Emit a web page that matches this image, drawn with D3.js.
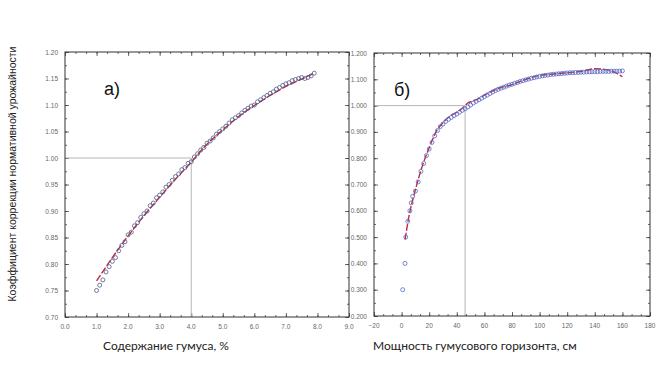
<!DOCTYPE html>
<html>
<head>
<meta charset="utf-8">
<script src="https://cdn.jsdelivr.net/npm/d3@7"></script>
<style>
  body { margin: 0; background: #fff; }
  svg { display: block; }
</style>
</head>
<body>
<svg id="chart" width="659" height="368"></svg>
<script>
// а) коэффициент vs содержание гумуса
const humusX = [1.0,1.1,1.2,1.3,1.4,1.5,1.6,1.7,1.8,1.9,2.0,2.1,2.2,2.3,2.4,2.5,2.6,2.7,2.8,2.9,
  3.0,3.1,3.2,3.3,3.4,3.5,3.6,3.7,3.8,3.9,4.0,4.1,4.2,4.3,4.4,4.5,4.6,4.7,4.8,4.9,
  5.0,5.1,5.2,5.3,5.4,5.5,5.6,5.7,5.8,5.9,6.0,6.1,6.2,6.3,6.4,6.5,6.6,6.7,6.8,6.9,
  7.0,7.1,7.2,7.3,7.4,7.5,7.6,7.7,7.8,7.9];
const humusK = [0.750,0.760,0.770,0.785,0.795,0.805,0.812,0.825,0.835,0.842,0.855,0.860,0.872,0.878,0.888,0.895,0.900,0.910,0.915,0.925,
  0.930,0.936,0.945,0.950,0.958,0.965,0.970,0.978,0.982,0.990,0.993,1.002,1.008,1.015,1.020,1.028,1.032,1.038,1.045,1.050,
  1.055,1.060,1.066,1.072,1.076,1.080,1.085,1.090,1.094,1.098,1.100,1.106,1.110,1.114,1.118,1.122,1.125,1.130,1.133,1.137,
  1.140,1.142,1.146,1.148,1.150,1.152,1.150,1.152,1.155,1.160];
const humusFitX = [1.0,1.5,2.0,2.5,3.0,3.5,4.0,4.5,5.0,5.5,6.0,6.5,7.0,7.5,7.9];
const humusFitK = [0.768,0.812,0.853,0.891,0.926,0.960,0.992,1.026,1.053,1.078,1.099,1.118,1.135,1.149,1.160];

// б) коэффициент vs мощность гумусового горизонта
const depthX = [0.8,2.5,3.0,4.5,6,7,8,10,12,14,16,18,20,22,24,26,28,30,32,34,36,38,40,42,44,46,48,50,
  52,54,56,58,60,62,64,66,68,70,72,74,76,78,80,82,84,86,88,90,92,94,96,98,100,102,104,106,108,110,
  112,114,116,118,120,122,124,126,128,130,132,134,136,138,140,142,144,146,148,150,152,154,156,158,160];
const depthK = [0.30,0.40,0.50,0.56,0.60,0.63,0.655,0.675,0.71,0.75,0.78,0.81,0.835,0.86,0.885,0.905,0.92,0.93,0.94,0.948,0.955,0.962,0.968,0.975,0.982,0.988,0.995,1.002,
  1.010,1.016,1.022,1.028,1.034,1.040,1.046,1.052,1.057,1.062,1.066,1.070,1.074,1.078,1.081,1.085,1.088,1.092,1.095,1.098,1.101,1.104,1.106,1.109,1.111,1.113,1.115,1.116,1.118,1.119,
  1.120,1.121,1.122,1.123,1.124,1.125,1.125,1.126,1.126,1.127,1.127,1.128,1.128,1.129,1.129,1.129,1.130,1.130,1.130,1.130,1.131,1.131,1.131,1.131,1.132];
const depthFitX = [2.5,5,10,15,20,25,30,35,40,45,48,50,55,60,70,80,90,100,110,120,130,140,150,155,160];
const depthFitK = [0.49,0.57,0.68,0.77,0.84,0.90,0.935,0.96,0.975,0.995,1.01,1.015,1.025,1.04,1.065,1.08,1.10,1.115,1.12,1.125,1.13,1.14,1.135,1.125,1.11];

// опорные линии
const refHumus = [4.0, 1.00];
const refDepth = [46, 1.00];

const svg = d3.select("#chart");

function panel(opt) {
  const { left, right, top, bottom } = opt.box;
  const x = d3.scaleLinear().domain(opt.xDomain).range([left, right]);
  const y = d3.scaleLinear().domain(opt.yDomain).range([bottom, top]);
  const g = svg.append("g");

  // тики внутрь, по всем сторонам
  const xMajor = d3.range(opt.xDomain[0], opt.xDomain[1] + 1e-9, opt.xStep);
  const yMajor = d3.range(opt.yDomain[0], opt.yDomain[1] + 1e-9, opt.yStep);
  const xMinor = d3.range(opt.xDomain[0], opt.xDomain[1] + 1e-9, opt.xStep / 3);
  const yMinor = d3.range(opt.yDomain[0], opt.yDomain[1] + 1e-9, opt.yStep / 2);

  g.append("g").attr("transform", `translate(0,${bottom})`)
    .call(d3.axisTop(x).tickValues(xMinor).tickSize(2).tickFormat(""));
  g.append("g").attr("transform", `translate(0,${top})`)
    .call(d3.axisBottom(x).tickValues(xMinor).tickSize(2).tickFormat(""));
  g.append("g").attr("transform", `translate(${left},0)`)
    .call(d3.axisRight(y).tickValues(yMinor).tickSize(2).tickFormat(""));
  g.append("g").attr("transform", `translate(${right},0)`)
    .call(d3.axisLeft(y).tickValues(yMinor).tickSize(2).tickFormat(""));

  g.append("g").attr("transform", `translate(0,${bottom})`)
    .call(d3.axisTop(x).tickValues(xMajor).tickSize(4).tickFormat(""));
  g.append("g").attr("transform", `translate(0,${top})`)
    .call(d3.axisBottom(x).tickValues(xMajor).tickSize(4).tickFormat(""));
  g.append("g").attr("transform", `translate(${left},0)`)
    .call(d3.axisRight(y).tickValues(yMajor).tickSize(4).tickFormat(""));
  g.append("g").attr("transform", `translate(${right},0)`)
    .call(d3.axisLeft(y).tickValues(yMajor).tickSize(4).tickFormat(""));

  g.selectAll(".domain").remove();
  g.selectAll(".tick line").attr("stroke", "#444").attr("stroke-width", 0.8);

  // подписи тиков
  g.selectAll(".xl").data(xMajor).enter().append("text")
    .attr("x", d => x(d)).attr("y", bottom + 12)
    .attr("text-anchor", "middle")
    .style("font", "6.5px 'Liberation Sans', Arial, sans-serif").style("fill", "#666")
    .text(opt.xFmt);
  g.selectAll(".yl").data(yMajor).enter().append("text")
    .attr("x", left - 7).attr("y", d => y(d) + 2.5)
    .attr("text-anchor", "end")
    .style("font", "6.5px 'Liberation Sans', Arial, sans-serif").style("fill", "#666")
    .text(opt.yFmt);

  // опорные линии
  g.append("path")
    .attr("d", `M${left},${y(opt.ref[1])}H${x(opt.ref[0])}V${bottom}`)
    .attr("fill", "none").attr("stroke", "#b4b4b4").attr("stroke-width", 1);

  // рамка
  g.append("rect")
    .attr("x", left).attr("y", top).attr("width", right - left).attr("height", bottom - top)
    .attr("fill", "none").attr("stroke", "#333").attr("stroke-width", 1);

  // линия аппроксимации
  const line = d3.line().x(d => x(d[0])).y(d => y(d[1])).curve(d3.curveMonotoneX);
  g.append("path")
    .datum(d3.zip(opt.fitX, opt.fitY))
    .attr("d", line)
    .attr("fill", "none").attr("stroke", "#c4283e").attr("stroke-width", 1.4)
    .attr("stroke-dasharray", "7,2");

  // точки
  g.selectAll(".pt").data(d3.zip(opt.px, opt.py)).enter().append("circle")
    .attr("cx", d => x(d[0])).attr("cy", d => y(d[1])).attr("r", 2)
    .attr("fill", "none").attr("stroke", opt.ptColor).attr("stroke-width", 0.8);

  g.append("text")
    .attr("x", opt.tag[0]).attr("y", opt.tag[1])
    .style("font", "18px 'Liberation Sans', Arial, sans-serif").style("fill", "#111")
    .text(opt.tagText);

  g.append("text")
    .attr("x", opt.title[0]).attr("y", 350)
    .style("font", "12px Lato, 'Open Sans', sans-serif").style("fill", "#222")
    .text(opt.titleText);
}

panel({
  box: { left: 65, right: 349, top: 52, bottom: 317 },
  xDomain: [0, 9], yDomain: [0.70, 1.20], xStep: 1, yStep: 0.05,
  xFmt: d3.format(".1f"), yFmt: d3.format(".2f"),
  ref: refHumus,
  fitX: humusFitX, fitY: humusFitK,
  px: humusX, py: humusK, ptColor: "#4c5a86",
  tag: [104, 95], tagText: "а)",
  title: [103], titleText: "Содержание гумуса, %"
});

panel({
  box: { left: 374, right: 650, top: 53, bottom: 316 },
  xDomain: [-20, 180], yDomain: [0.2, 1.2], xStep: 20, yStep: 0.1,
  xFmt: d3.format("d"), yFmt: d3.format(".3f"),
  ref: refDepth,
  fitX: depthFitX, fitY: depthFitK,
  px: depthX, py: depthK, ptColor: "#5468c4",
  tag: [394, 96], tagText: "б)",
  title: [373], titleText: "Мощность гумусового горизонта, см"
});

svg.append("text")
  .attr("transform", "rotate(-90)")
  .attr("x", -174).attr("y", 16)
  .attr("text-anchor", "middle")
  .style("font", "10.5px 'Liberation Sans', Arial, sans-serif").style("fill", "#222")
  .text("Коэффициент коррекции нормативной урожайности");
</script>
</body>
</html>
